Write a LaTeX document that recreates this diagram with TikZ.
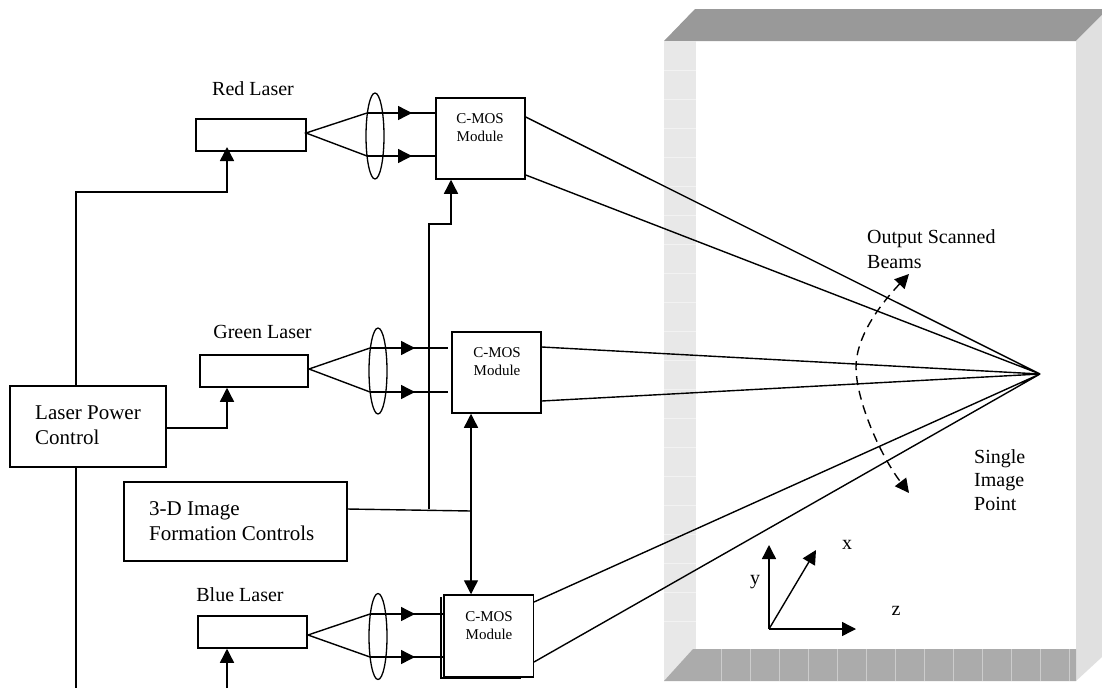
\documentclass[tikz,border=0pt]{standalone}
\usepackage{fontspec}
\setmainfont{Liberation Serif}
\usetikzlibrary{arrows.meta, shapes.geometric}
\definecolor{roofgray}{gray}{0.6}
\definecolor{floorgray}{gray}{0.67}
\definecolor{leftgray}{gray}{0.91}
\definecolor{rightgray}{gray}{0.88}
\tikzset{
    unitbox/.style={draw, line width=1.5pt, inner sep=0pt, fill=white},
    lens/.style={draw, line width=1.3pt, ellipse, inner sep=0pt, minimum width=18pt, minimum height=86pt},
    beam/.style={line width=1.4pt},
    feed/.style={line width=1.4pt, -{Triangle[length=14pt,width=14pt]}},
    txt/.style={align=left, inner sep=0pt, font=\fontsize{20}{25}\selectfont},
    bigtxt/.style={align=left, inner sep=0pt, font=\fontsize{21}{25}\selectfont},
    small/.style={align=center, inner sep=0pt, font=\fontsize{15}{18}\selectfont}
}
\begin{document}
\begin{tikzpicture}[x=1pt, y=-1pt, >=latex]
    \useasboundingbox (0,0) rectangle (1102,688);
    % room
    \fill[roofgray] (664,41) -- (695,9) -- (1102,9) -- (1102,15) -- (1076,41) -- cycle;
    \fill[leftgray] (664,41) rectangle (696,681);
    \fill[rightgray] (1076,41) -- (1102,15) -- (1102,657) -- (1076,681) -- cycle;
    \fill[floorgray] (664,681) -- (693,649) -- (1076,649) -- (1076,681) -- cycle;
    \foreach \y in {70,99,128,157,186,215,244,273,302,331,360,389,418,447,476,505,534,563,592,621}
        \draw[black!5, line width=0.4pt] (664,\y) -- (696,\y);
    \foreach \x in {721,750,779,808,837,866,895,924,953,982,1011,1040,1069}
        \draw[black!20, line width=0.4pt] (\x,649) -- (\x,681);

    % lasers
    \node[unitbox, minimum width=110pt, minimum height=32pt] (redlaser) at (251,135) {};
    \node[unitbox, minimum width=108pt, minimum height=32pt] (greenlaser) at (254,371) {};
    \node[unitbox, minimum width=109pt, minimum height=32pt] (bluelaser) at (252.5,632) {};
    \node[txt] (redlabel) at (253,89) {Red Laser};
    \node[txt] (greenlabel) at (262.5,332) {Green Laser};
    \node[txt] (bluelabel) at (240,595) {Blue Laser};

    % lenses
    \node[lens] (redlens) at (375,136) {};
    \node[lens] (greenlens) at (378,371) {};
    \node[lens] (bluelens) at (378,636.5) {};

    % modules
    \draw[line width=1.4pt] (441,597) -- (441,678) -- (521,678);
    \node[unitbox, minimum width=89pt, minimum height=81pt] (redmodule) at (480.5,138.5) {};
    \node[unitbox, minimum width=89pt, minimum height=81pt] (greenmodule) at (496.5,372.5) {};
    \node[unitbox, minimum width=89.5pt, minimum height=82pt] (bluemodule) at (488.5,636) {};
    \node[small] (redtext) at (480,128) {C-MOS\\Module};
    \node[small] (greentext) at (497,361.5) {C-MOS\\Module};
    \node[small] (bluetext) at (489,626) {C-MOS\\Module};

    % controls
    \node[unitbox, minimum width=156pt, minimum height=81pt] (power) at (88,426.5) {};
    \node[bigtxt, anchor=west] (powertext) at (35,425.5) {Laser Power\\Control};
    \node[unitbox, minimum width=223pt, minimum height=79pt] (formation) at (235.5,521.5) {};
    \node[bigtxt, anchor=west] (formationtext) at (149,521.5) {3-D Image\\Formation Controls};

    % laser to module
    \coordinate (redapex) at (306,133);
    \coordinate (redup) at (367,113);
    \coordinate (reddown) at (367,156);
    \draw[beam] (redup) -- (redapex) -- (reddown);
    \draw[feed] (redup) -- ++(45,0);
    \draw[feed] (reddown) -- ++(45,0);
    \draw[beam] (redup) -- (redmodule.west |- redup);
    \draw[beam] (reddown) -- (redmodule.west |- reddown);

    \coordinate (greenapex) at (309,369);
    \coordinate (greenup) at (370,348);
    \coordinate (greendown) at (370,392);
    \draw[beam] (greenup) -- (greenapex) -- (greendown);
    \draw[feed] (greenup) -- ++(45,0);
    \draw[feed] (greendown) -- ++(45,0);
    \draw[beam] (greenup) -- ++(78,0);
    \draw[beam] (greendown) -- ++(78,0);

    \coordinate (blueapex) at (308,635);
    \coordinate (blueup) at (370,614);
    \coordinate (bluedown) at (370,657);
    \draw[beam] (blueup) -- (blueapex) -- (bluedown);
    \draw[feed] (blueup) -- ++(45,0);
    \draw[feed] (bluedown) -- ++(45,0);
    \draw[beam] (blueup) -- (bluemodule.west |- blueup);
    \draw[beam] (bluedown) -- (bluemodule.west |- bluedown);

    % power feeds
    \coordinate (powerout) at (166,428);
    \coordinate (bluein) at (227,688);
    \coordinate (powerdown) at (76,688);
    \draw[feed] (power.north -| 76,0) -- (76,192) -- (227,192) -- (227,147);
    \draw[feed] (powerout) -- (227,428) -- (greenlaser.south -| 227,0);
    \draw[beam] (power.south -| powerdown) -- (powerdown);
    \draw[feed] (bluein) -- (bluelaser.south -| bluein);

    % image controls
    \coordinate (formout) at (347,509);
    \coordinate (formjoin) at (471,511);
    \draw[beam] (formout) -- (formjoin);
    \draw[feed] (429,509) -- (429,224) -- (451,224) -- (redmodule.south -| 451,0);
    \draw[feed] (formjoin) -- (greenmodule.south -| formjoin);
    \draw[feed] (formjoin) -- (bluemodule.north -| formjoin);

    % output beams
    \coordinate (point) at (1040,374);
    \draw[beam] (redmodule.east |- 0,117) -- (point) -- (redmodule.east |- 0,175);
    \draw[beam] (greenmodule.east |- 0,347) -- (point) -- (greenmodule.east |- 0,401);
    \draw[beam] (bluemodule.east |- 0,602) -- (point) -- (bluemodule.east |- 0,662);
    \draw[line width=1.4pt, dash pattern=on 9pt off 6pt, {Triangle[length=14pt,width=14pt]}-{Triangle[length=14pt,width=14pt]}]
        (909,274) .. controls (875,310) and (856,340) .. (856,367)
        .. controls (856,400) and (880,455) .. (909,493);
    \node[txt, anchor=west] (scanned) at (867,249.5) {Output Scanned\\Beams};
    \node[txt, anchor=west, font=\fontsize{20}{23.5}\selectfont] (single) at (974,480) {Single\\Image\\Point};

    % axes
    \coordinate (origin) at (769,629);
    \draw[feed] (origin) -- (769,545);
    \draw[feed] (origin) -- (816,550);
    \draw[feed] (origin) -- (856,629);
    \node[txt] (ylabel) at (755,582) {y};
    \node[txt] (xlabel) at (847,545) {x};
    \node[txt] (zlabel) at (896,611) {z};
\end{tikzpicture}
\end{document}
